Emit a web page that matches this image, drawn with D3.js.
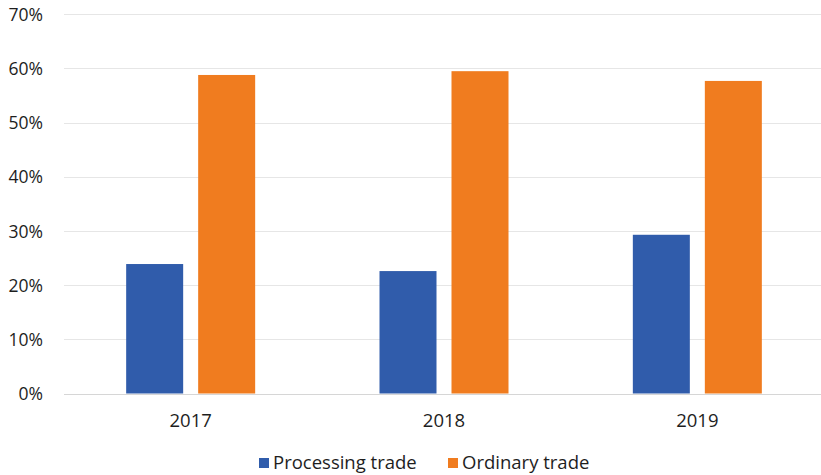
<!DOCTYPE html>
<html>
<head>
<meta charset="utf-8">
<script src="https://cdn.jsdelivr.net/npm/d3@7"></script>
<style>
  html, body { margin: 0; padding: 0; background: #fff; }
  svg { display: block; font-family: "Open Sans", sans-serif; }
</style>
</head>
<body>
<svg id="chart" width="821" height="475"></svg>
<script>
// Share of trade by mode, 2017–2019 (%)
const years = ["2017", "2018", "2019"];
const processingTrade = [23.9, 22.6, 29.3];
const ordinaryTrade = [58.8, 59.5, 57.7];
const seriesNames = ["Processing trade", "Ordinary trade"];
const seriesColors = ["#305CAB", "#F07C1F"];
const yTicks = [0, 10, 20, 30, 40, 50, 60, 70];

const svg = d3.select("#chart");
const W = 821;

const x = d3.scaleBand().domain(years).range([64, 824]).paddingInner(0).paddingOuter(0);
const y = d3.scaleLinear().domain([0, 70]).range([393.5, 14.3]);

// two bars of 57px with a 15px gap, centred in each year band
const inner = d3.scaleBand().domain(seriesNames)
  .range([x.bandwidth() / 2 - 64.5, x.bandwidth() / 2 + 64.5])
  .paddingInner(15 / 72).paddingOuter(0);

// gridlines
svg.append("g")
  .selectAll("line")
  .data(yTicks)
  .join("line")
  .attr("x1", 64)
  .attr("x2", W)
  .attr("y1", d => Math.round(y(d)) + 0.5)
  .attr("y2", d => Math.round(y(d)) + 0.5)
  .attr("stroke", d => d === 0 ? "#d6d6d6" : "#e6e6e6")
  .attr("stroke-width", 1.2);

// y axis labels
const yAxis = d3.axisLeft(y).tickValues(yTicks).tickFormat(d => d + "%").tickSize(0).tickPadding(0);
const gy = svg.append("g").attr("transform", "translate(43,0)").call(yAxis);
gy.select(".domain").remove();
gy.selectAll("text")
  .attr("font-size", 17.5)
  .attr("font-family", "Open Sans, sans-serif")
  .attr("fill", "#1e1e1e")
  .attr("dy", "0.35em");

// bars
const rows = years.map((yr, i) => ({ year: yr, values: [processingTrade[i], ordinaryTrade[i]] }));
const groups = svg.append("g")
  .selectAll("g")
  .data(rows)
  .join("g")
  .attr("transform", d => `translate(${x(d.year)},0)`);

groups.selectAll("rect")
  .data(d => d.values.map((v, j) => ({ name: seriesNames[j], value: v, color: seriesColors[j] })))
  .join("rect")
  .attr("x", d => inner(d.name))
  .attr("width", inner.bandwidth())
  .attr("y", d => y(d.value))
  .attr("height", d => y(0) - y(d.value))
  .attr("fill", d => d.color);

// x axis labels
const xAxis = d3.axisBottom(x).tickSize(0).tickPadding(0);
const gx = svg.append("g").attr("transform", "translate(0,421)").call(xAxis);
gx.select(".domain").remove();
gx.selectAll("text")
  .attr("font-size", 18.5)
  .attr("font-family", "Open Sans, sans-serif")
  .attr("fill", "#1e1e1e")
  .attr("dy", "0.35em")
  .attr("y", 0);

// legend
const legendX = [259, 448];
const legend = svg.append("g")
  .selectAll("g")
  .data(seriesNames)
  .join("g")
  .attr("transform", (d, i) => `translate(${legendX[i]},458)`);
legend.append("rect")
  .attr("width", 10).attr("height", 10)
  .attr("fill", (d, i) => seriesColors[i]);
legend.append("text")
  .attr("x", 14)
  .attr("y", 5)
  .attr("dy", "0.35em")
  .attr("font-size", 18.5)
  .attr("fill", "#1e1e1e")
  .text(d => d);
</script>
</body>
</html>
